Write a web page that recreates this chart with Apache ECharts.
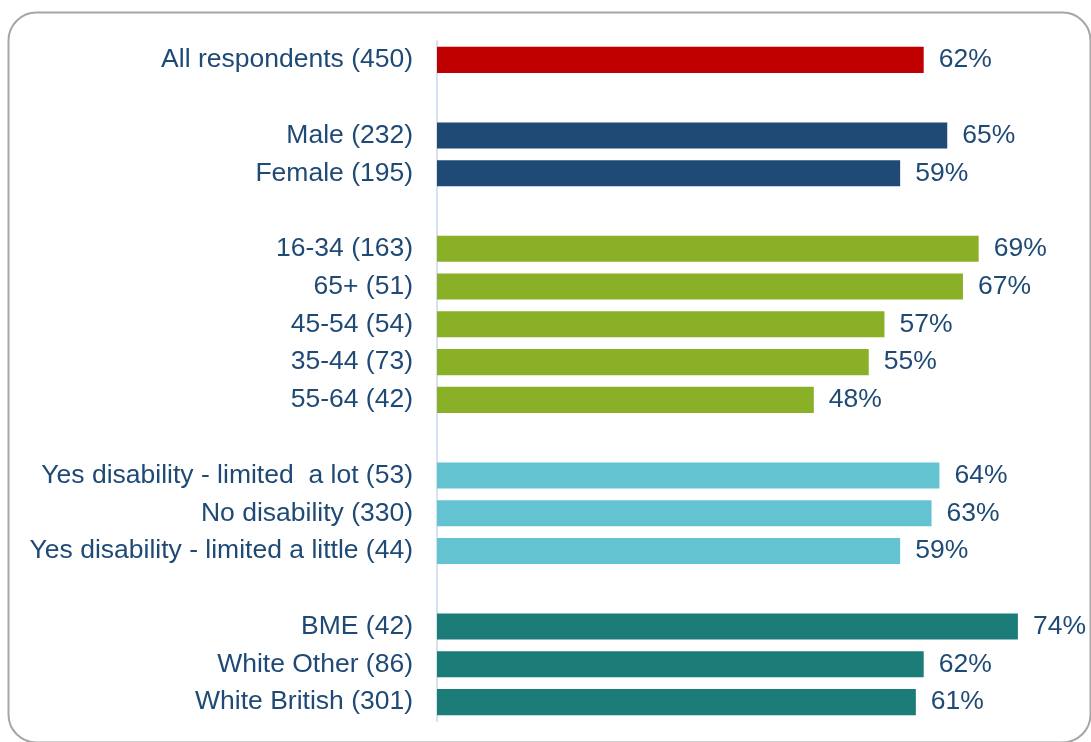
<!DOCTYPE html>
<html>
<head>
<meta charset="utf-8">
<script src="https://cdn.jsdelivr.net/npm/echarts@6/dist/echarts.min.js"></script>
<style>html,body{margin:0;padding:0;background:#fff;}#c{width:1091px;height:742px;}</style>
</head>
<body>
<div id="c"></div>
<script>
const categories = [
  'All respondents (450)', ' ',
  'Male (232)', 'Female (195)', '  ',
  '16-34 (163)', '65+ (51)', '45-54 (54)', '35-44 (73)', '55-64 (42)', '   ',
  'Yes disability - limited  a lot (53)', 'No disability (330)', 'Yes disability - limited a little (44)', '    ',
  'BME (42)', 'White Other (86)', 'White British (301)'
];
const values = [62, null, 65, 59, null, 69, 67, 57, 55, 48, null, 64, 63, 59, null, 74, 62, 61];
const groupColors = ['#C00000', null, '#1F4A75', '#1F4A75', null, '#8AB028', '#8AB028', '#8AB028', '#8AB028', '#8AB028', null, '#63C3D0', '#63C3D0', '#63C3D0', null, '#1B7C78', '#1B7C78', '#1B7C78'];

const chart = echarts.init(document.getElementById('c'), null, {renderer: 'canvas'});
const textColor = '#1F4A75';
const font = 'Liberation Sans, Arial, sans-serif';
chart.setOption({
  animation: false,
  backgroundColor: '#fff',
  graphic: [{
    type: 'rect', silent: true, z: -1,
    shape: {x: 8.5, y: 12.5, width: 1082, height: 730, r: 28},
    style: {fill: 'none', stroke: '#A6A6A6', lineWidth: 2}
  }],
  grid: {left: 437, right: 26, top: 41, bottom: 21, containLabel: false},
  xAxis: {
    type: 'value', min: 0, max: 80, show: false
  },
  yAxis: {
    type: 'category', inverse: true, data: categories,
    axisLine: {show: true, lineStyle: {color: '#D6E2F1', width: 2}},
    axisTick: {show: false},
    axisLabel: {color: textColor, fontSize: 26.5, fontFamily: font, margin: 24, padding: [7, 0, 0, 0]}
  },
  series: [{
    type: 'bar',
    barCategoryGap: '31%',
    data: values.map((v, i) => ({value: v, itemStyle: {color: groupColors[i] || '#fff'}})),
    label: {
      show: true, position: 'right', distance: 15,
      color: textColor, fontSize: 26.5, fontFamily: font, padding: [7, 0, 0, 0],
      formatter: p => p.value == null ? '' : p.value + '%'
    }
  }]
});
</script>
</body>
</html>
